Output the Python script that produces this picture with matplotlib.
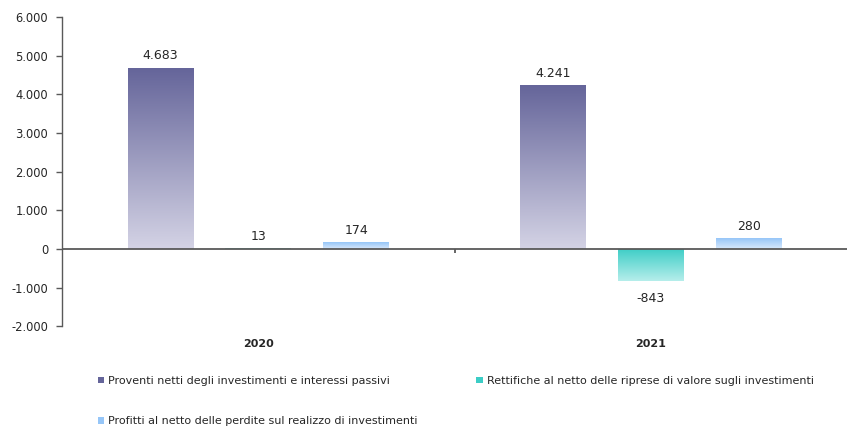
import numpy as np
import matplotlib
matplotlib.use('Agg')
import matplotlib.pyplot as plt
import matplotlib.colors as mcolors
from matplotlib.patches import Patch

YEARS = ['2020', '2021']
SERIES = ['Proventi netti degli investimenti e interessi passivi',
          'Rettifiche al netto delle riprese di valore sugli investimenti',
          'Profitti al netto delle perdite sul realizzo di investimenti']
proventi = [4683, 4241]
rettifiche = [13, -843]
profitti = [174, 280]
YTICKS = [-2000, -1000, 0, 1000, 2000, 3000, 4000, 5000, 6000]

# (top colour, bottom colour) for the vertical gradients
GRADS = [('#65659a', '#d4d3e5'), ('#3ccdc6', '#b6eeeb'), ('#96c6f8', '#d9e9fc')]
AXCOL = '#595959'
TXT = '#262626'

plt.rcParams['font.family'] = ['DejaVu Sans']
plt.rcParams['font.size'] = 8


def fmt_it(v):
    s = f'{abs(v):,}'.replace(',', '.')
    return ('-' if v < 0 else '') + s


def gradient_bars(ax, bars, top, bottom):
    cmap = mcolors.LinearSegmentedColormap.from_list('g', [top, bottom])
    grad = np.linspace(0, 1, 256).reshape(-1, 1)
    for b in bars:
        x, y = b.get_xy()
        w, h = b.get_width(), b.get_height()
        y0, y1 = min(y, y + h), max(y, y + h)
        b.set_facecolor('none')
        im = ax.imshow(grad, cmap=cmap, aspect='auto', origin='upper',
                       extent=[x, x + w, y0, y1], zorder=2)
        im.set_clip_path(b)


fig = plt.figure(figsize=(8.48, 4.28), dpi=100)
ax = fig.add_axes([0.0731, 0.238, 0.926, 0.722])

x = np.arange(len(YEARS))
width, step = 0.168, 0.249
for i, vals in enumerate([proventi, rettifiche, profitti]):
    bars = ax.bar(x + (i - 1) * step, vals, width, linewidth=0, zorder=2)
    gradient_bars(ax, bars, *GRADS[i])
    for b, v in zip(bars, vals):
        neg = v < 0
        ax.annotate(fmt_it(v), (b.get_x() + b.get_width() / 2, v),
                    xytext=(0, -7.5 if neg else 4), textcoords='offset points',
                    ha='center', va='top' if neg else 'bottom',
                    fontsize=9, color=TXT)

ax.set_xlim(-0.5, 1.5)
ax.set_ylim(-2000, 6000)
ax.set_yticks(YTICKS)
ax.set_yticklabels([fmt_it(v) for v in YTICKS], color=TXT, fontsize=8.3)
ax.tick_params(axis='y', length=4, width=1, color=AXCOL, pad=6)

ax.set_xticks(x)
ax.set_xticklabels(YEARS, fontweight='bold', color=TXT, fontsize=8)
ax.tick_params(axis='x', length=0, pad=9)

for side in ['top', 'right', 'bottom']:
    ax.spines[side].set_visible(False)
ax.spines['left'].set_color(AXCOL)
ax.spines['left'].set_linewidth(1)
ax.axhline(0, color=AXCOL, lw=1.3, zorder=3)
ax.vlines(0.5, -100, 0, color=AXCOL, lw=1.3, zorder=3)

handles = [Patch(facecolor=a) for a, b in GRADS]
order = [0, 2, 1]
fig.legend([handles[i] for i in order], [SERIES[i] for i in order],
           ncol=2, loc='upper left', bbox_to_anchor=(0.115, 0.122),
           frameon=False, fontsize=8, handlelength=0.6, handleheight=0.5,
           handletextpad=0.35, labelspacing=2.75, columnspacing=5.3,
           borderaxespad=0, borderpad=0, labelcolor=TXT)

fig.savefig('out.png', dpi=100)
